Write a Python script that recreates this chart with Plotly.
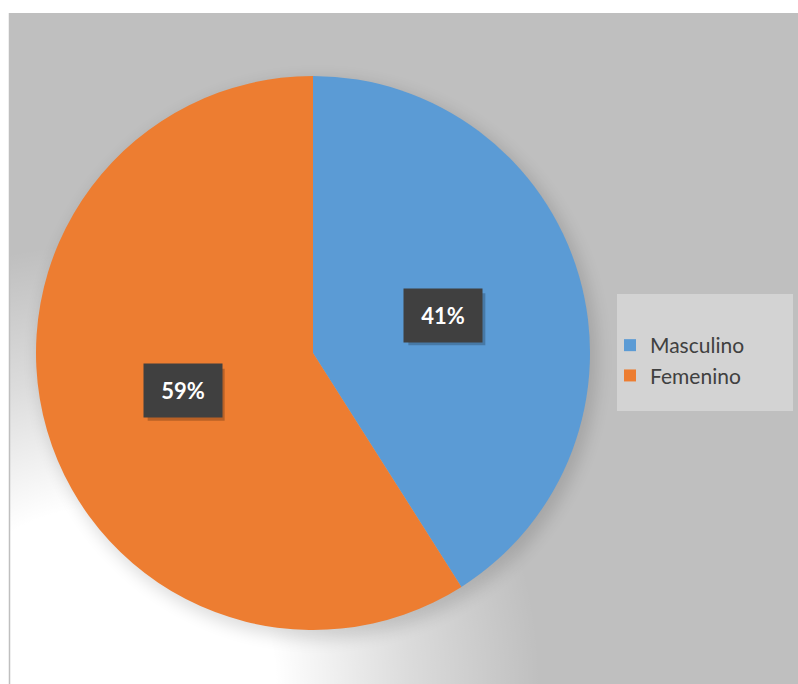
import base64
import math

import plotly.graph_objects as go

# Distribution by sex (percent of respondents)
labels = ["Masculino", "Femenino"]
values = [41, 59]
colors = ["#5B9BD5", "#ED7D31"]

W, H = 798, 684
CX, CY, R = 313, 353, 277          # pie centre and radius in px
LABEL_R = 0.49                      # data labels sit at this fraction of R

# Chart-area backdrop: grey panel, soft white glow lower-left, dark halo behind the pie
svg = f"""<svg xmlns="http://www.w3.org/2000/svg" width="{W}" height="{H}" viewBox="0 0 {W} {H}">
<defs>
<radialGradient id="glow" cx="100" cy="684" r="440" gradientUnits="userSpaceOnUse">
<stop offset="0" stop-color="#ffffff" stop-opacity="1"/>
<stop offset="0.4" stop-color="#ffffff" stop-opacity="1"/>
<stop offset="0.7" stop-color="#ffffff" stop-opacity="0.45"/>
<stop offset="1" stop-color="#ffffff" stop-opacity="0"/>
</radialGradient>
<filter id="blur" x="-30%" y="-30%" width="160%" height="160%">
<feGaussianBlur stdDeviation="8"/>
</filter>
<clipPath id="panel"><rect x="9" y="13" width="{W - 9}" height="{H - 13}"/></clipPath>
</defs>
<g clip-path="url(#panel)">
<rect x="9" y="13" width="{W - 9}" height="{H - 13}" fill="#BFBFBF"/>
<rect x="9" y="13" width="{W - 9}" height="{H - 13}" fill="url(#glow)"/>
<circle cx="{CX + 5}" cy="{CY + 6}" r="{R + 3}" fill="#000000" opacity="0.13" filter="url(#blur)"/>
</g>
<line x1="9.5" y1="13" x2="9.5" y2="{H}" stroke="#BFBFBF" stroke-width="1.5"/>
</svg>"""
backdrop = "data:image/svg+xml;base64," + base64.b64encode(svg.encode()).decode()

fig = go.Figure(
    go.Pie(
        labels=labels,
        values=values,
        marker=dict(colors=colors, line=dict(width=0)),
        sort=False,
        direction="clockwise",
        rotation=0,
        textinfo="none",
        hoverinfo="label+percent",
        domain=dict(
            x=[(CX - R) / W, (CX + R) / W],
            y=[1 - (CY + R) / H, 1 - (CY - R) / H],
        ),
    )
)

# Percentage labels in dark boxes at each slice's mid-angle
total = sum(values)
cum = 0
annotations = []
shapes = []
for v in values:
    theta = math.radians(360 * (cum + v / 2) / total)
    cum += v
    px = CX + LABEL_R * R * math.sin(theta)
    py = CY - LABEL_R * R * math.cos(theta)
    # soft drop shadow under the label box
    shapes.append(dict(
        type="rect", xref="paper", yref="paper", layer="above",
        x0=(px - 35) / W, x1=(px + 42) / W,
        y0=1 - (py + 30) / H, y1=1 - (py - 22) / H,
        fillcolor="rgba(0,0,0,0.22)", line=dict(width=0),
    ))
    annotations.append(dict(
        x=px / W, y=1 - py / H, xref="paper", yref="paper",
        xanchor="center", yanchor="middle",
        text=f"<b>{round(100 * v / total)}%</b>",
        showarrow=False,
        font=dict(family="Lato", size=22, color="#FFFFFF"),
        bgcolor="#404040",
        width=72, height=47, borderpad=3,
        align="center", valign="middle",
    ))

# legend panel
shapes.append(dict(
    type="rect", xref="paper", yref="paper", layer="below",
    x0=617 / W, x1=793 / W, y0=1 - 411 / H, y1=1 - 294 / H,
    fillcolor="#D3D3D3", line=dict(width=0),
))

fig.update_layout(
    width=W, height=H,
    margin=dict(l=0, r=0, t=0, b=0),
    paper_bgcolor="#FFFFFF",
    plot_bgcolor="rgba(0,0,0,0)",
    images=[dict(
        source=backdrop, xref="paper", yref="paper",
        x=0, y=1, sizex=1, sizey=1,
        xanchor="left", yanchor="top", sizing="stretch", layer="below",
    )],
    shapes=shapes,
    annotations=annotations,
    showlegend=True,
    legend=dict(
        x=610 / W, y=1 - 325 / H, xanchor="left", yanchor="top",
        bgcolor="rgba(0,0,0,0)",
        font=dict(family="Lato", size=21, color="#404040"),
    ),
)

fig.write_html("out.html")
